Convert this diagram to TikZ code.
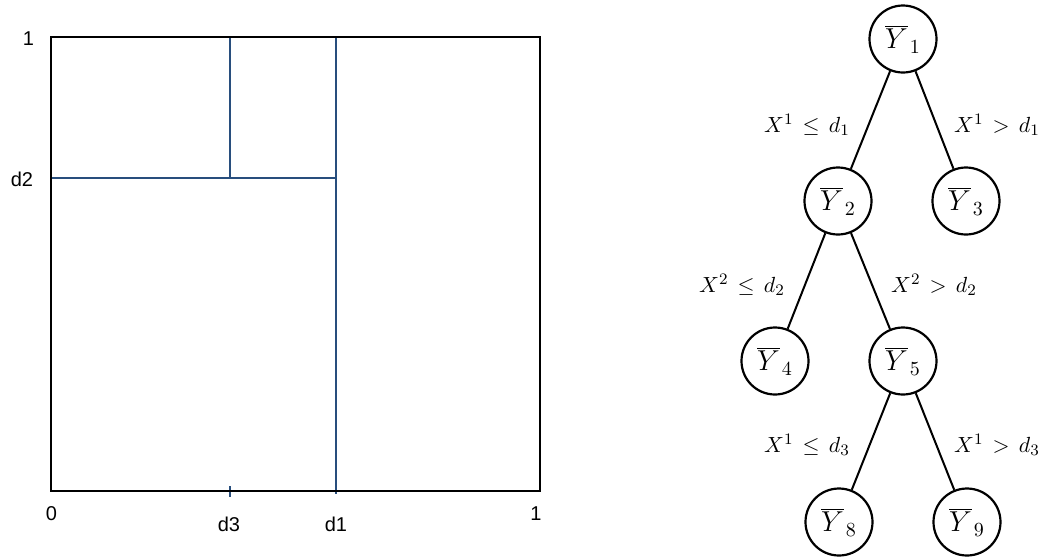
\documentclass[tikz,border=0pt]{standalone}
\usepackage{fontspec}
\newfontfamily\arialfont{Liberation Sans}
\definecolor{gridblue}{RGB}{40,78,125}
\newcommand{\ybar}[1]{\overline{Y}_{\kern1pt #1}}
\begin{document}
\begin{tikzpicture}[x=0.5pt,y=-0.5pt,
  axlab/.style={font=\arialfont\fontsize{10}{11}\selectfont, inner sep=0pt},
  plotbox/.style={line width=1pt, black},
  split/.style={gridblue, line width=1pt},
  leaf/.style={circle, draw, line width=1.1pt, minimum size=33.5pt, inner sep=0pt, font=\fontsize{14.4}{16}\selectfont},
  cond/.style={inner sep=0pt, font=\fontsize{10.95}{13}\selectfont, execute at begin node={\thickmuskip=7.5mu\relax}},
  edge/.style={line width=1pt}]
\useasboundingbox (0,0) rectangle (1041,559);
% left partition plot
\draw[split] (336,37) -- (336,494);
\draw[split] (51,178) -- (336,178);
\draw[split] (230,37) -- (230,178);
\draw[split] (230,486) -- (230,497);
\draw[plotbox] (51,37) rectangle (540,491);
\node[axlab] (ytop) at (28.5,39) {1};
\node[axlab] (yd2) at (22,179) {d2};
\node[axlab] (x0) at (51.5,513.5) {0};
\node[axlab] (xd3) at (229,524) {d3};
\node[axlab] (xd1) at (336,524) {d1};
\node[axlab] (x1) at (536,513.5) {1};
% tree
\node[leaf] (n1) at (903,39) {$\ybar{1}$};
\node[leaf] (n2) at (838,201) {$\ybar{2}$};
\node[leaf] (n3) at (966,201) {$\ybar{3}$};
\node[leaf] (n4) at (775,361) {$\ybar{4}$};
\node[leaf] (n5) at (903,361) {$\ybar{5}$};
\node[leaf] (n8) at (839,522) {$\ybar{8}$};
\node[leaf] (n9) at (967,522) {$\ybar{9}$};
\draw[edge] (n1) -- (n2);
\draw[edge] (n1) -- (n3);
\draw[edge] (n2) -- (n4);
\draw[edge] (n2) -- (n5);
\draw[edge] (n5) -- (n8);
\draw[edge] (n5) -- (n9);
\node[cond] (c12) at (807,125) {$X^1 \le d_1$};
\node[cond] (c13) at (997,125) {$X^1 > d_1$};
\node[cond] (c24) at (742,285) {$X^2 \le d_2$};
\node[cond] (c25) at (934,285) {$X^2 > d_2$};
\node[cond] (c58) at (807,445) {$X^1 \le d_3$};
\node[cond] (c59) at (997,445) {$X^1 > d_3$};
\end{tikzpicture}
\end{document}
